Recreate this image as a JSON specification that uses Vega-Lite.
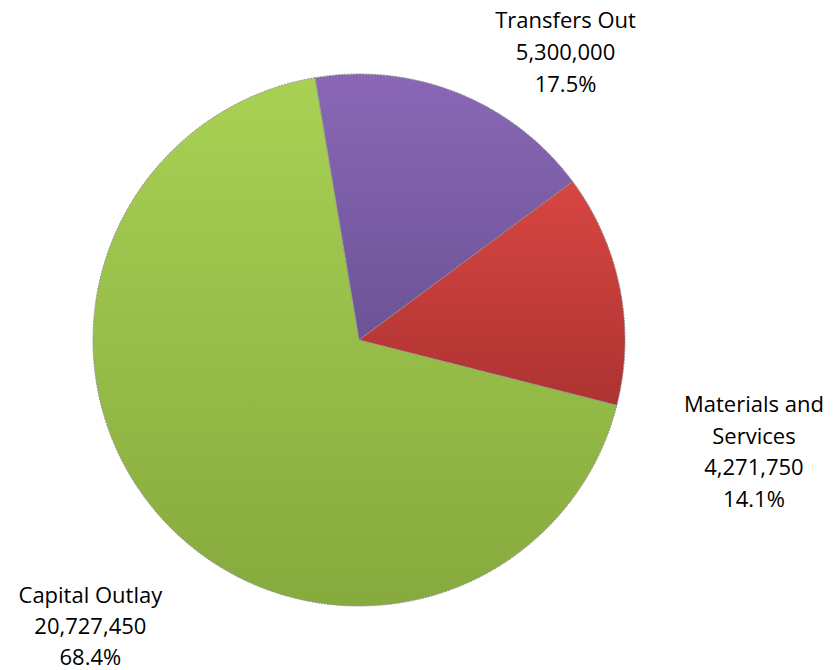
{
  "$schema": "https://vega.github.io/schema/vega-lite/v6.json",
  "width": 718,
  "height": 660,
  "autosize": {"type": "none"},
  "padding": {"left": 0, "top": 10, "right": 117, "bottom": 0},
  "background": "white",
  "view": {"stroke": null},
  "data": {
    "values": [
      {"idx": 1, "name": "Transfers Out", "amount": 5300000, "label": "Transfers Out\n5,300,000\n17.5%"},
      {"idx": 2, "name": "Materials and Services", "amount": 4271750, "label": "Materials and\nServices\n4,271,750\n14.1%"},
      {"idx": 3, "name": "Capital Outlay", "amount": 20727450, "label": "Capital Outlay\n20,727,450\n68.4%"}
    ]
  },
  "encoding": {
    "theta": {"field": "amount", "type": "quantitative", "stack": true, "scale": {"range": [-0.166, 6.117]}},
    "order": {"field": "idx", "type": "quantitative"},
    "detail": {"field": "name", "type": "nominal"}
  },
  "layer": [
    {
      "mark": {"type": "arc", "outerRadius": 266, "stroke": "#8f8f8f", "strokeWidth": 1, "strokeDash": [2, 1]},
      "encoding": {
        "fill": {
          "condition": [
            {"test": "datum.name === 'Transfers Out'", "value": {"gradient": "linear", "x1": 0, "y1": 0, "x2": 0, "y2": 1, "stops": [{"offset": 0, "color": "#8A67B6"}, {"offset": 1, "color": "#6C5395"}]}},
            {"test": "datum.name === 'Materials and Services'", "value": {"gradient": "linear", "x1": 0, "y1": 0, "x2": 0, "y2": 1, "stops": [{"offset": 0, "color": "#D84643"}, {"offset": 1, "color": "#AD3331"}]}}
          ],
          "value": {"gradient": "linear", "x1": 0, "y1": 0, "x2": 0, "y2": 1, "stops": [{"offset": 0, "color": "#A8D154"}, {"offset": 1, "color": "#86AA3D"}]}
        }
      }
    },
    {
      "mark": {"type": "text", "radius": 266, "dx": 107, "dy": -72, "lineBreak": "\n", "font": "Open Sans", "fontSize": 22, "lineHeight": 32, "align": "center", "baseline": "middle", "color": "#000000"},
      "encoding": {"text": {"condition": {"test": "datum.name === 'Transfers Out'", "field": "label"}, "value": ""}}
    },
    {
      "mark": {"type": "text", "radius": 266, "dx": 134, "dy": 117, "lineBreak": "\n", "font": "Open Sans", "fontSize": 22, "lineHeight": 31.5, "align": "center", "baseline": "middle", "color": "#000000"},
      "encoding": {"text": {"condition": {"test": "datum.name === 'Materials and Services'", "field": "label"}, "value": ""}}
    },
    {
      "mark": {"type": "text", "radius": 266, "dx": -73, "dy": 76, "lineBreak": "\n", "font": "Open Sans", "fontSize": 22, "lineHeight": 31, "align": "center", "baseline": "middle", "color": "#000000"},
      "encoding": {"text": {"condition": {"test": "datum.name === 'Capital Outlay'", "field": "label"}, "value": ""}}
    }
  ]
}
